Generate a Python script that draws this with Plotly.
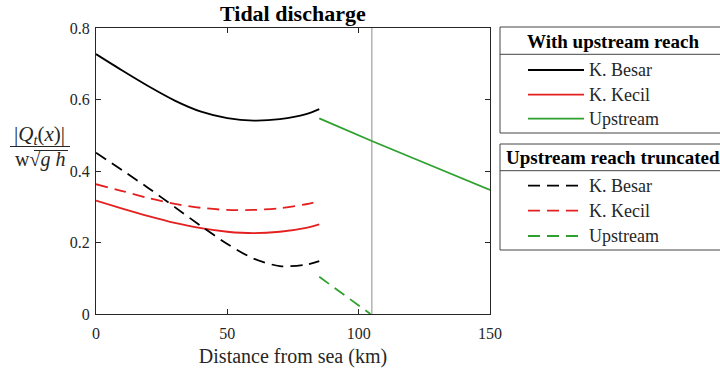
import plotly.graph_objects as go

# ---------------- data ----------------
x_main = [0, 10, 20, 30, 40, 50, 60, 70, 80, 85]
besar_full = [0.727, 0.681, 0.637, 0.597, 0.566, 0.548, 0.541, 0.545, 0.559, 0.573]
kecil_full = [0.317, 0.295, 0.274, 0.255, 0.240, 0.230, 0.226, 0.230, 0.241, 0.251]
besar_trunc = [0.451, 0.402, 0.352, 0.299, 0.246, 0.196, 0.155, 0.134, 0.138, 0.148]
kecil_trunc = [0.363, 0.344, 0.324, 0.308, 0.297, 0.291, 0.291, 0.296, 0.307, 0.315]

x_up_full = [85, 105, 125, 150]
up_full = [0.547, 0.484, 0.423, 0.347]
x_up_trunc = [85, 104.5]
up_trunc = [0.104, 0.0]

x_marker = 105  # vertical reference line (km)

series_names = ["K. Besar", "K. Kecil", "Upstream"]
legend_titles = ["With upstream reach", "Upstream reach truncated"]
x_ticks = [0, 50, 100, 150]
y_ticks = [0, 0.2, 0.4, 0.6, 0.8]
y_ticklabels = ["0", "0.2", "0.4", "0.6", "0.8"]

# ---------------- style ----------------
FONT = "Liberation Serif"
BLACK = "#000000"
RED = "#e3201f"
GREEN = "#2ea02e"
AXC = "#262626"
DASH = "12px,7px"
LW = 1.8
colors = [BLACK, RED, GREEN]

W, H = 720, 376
L, R, T, B = 96, 490, 28, 314


def px(xs):
    return (xs - L) / (R - L)


def py(ys):
    return (B - ys) / (B - T)


fig = go.Figure()

fig.add_trace(go.Scatter(x=[x_marker, x_marker], y=[0, 0.8], mode="lines",
                         line=dict(color="#b3b3b3", width=1.5), showlegend=False))

for xs, ys, c, d in [
    (x_main, besar_full, BLACK, "solid"),
    (x_main, kecil_full, RED, "solid"),
    (x_up_full, up_full, GREEN, "solid"),
    (x_main, besar_trunc, BLACK, DASH),
    (x_main, kecil_trunc, RED, DASH),
    (x_up_trunc, up_trunc, GREEN, DASH),
]:
    fig.add_trace(go.Scatter(x=xs, y=ys, mode="lines",
                             line=dict(color=c, width=LW, dash=d, shape="spline", smoothing=0.8),
                             showlegend=False))

axis_common = dict(showline=True, linecolor=AXC, linewidth=1, mirror="ticks",
                   ticks="inside", ticklen=5, tickcolor=AXC, showgrid=False,
                   zeroline=False, tickfont=dict(family=FONT, size=16, color=AXC))

fig.update_xaxes(range=[0, 150], tickvals=x_ticks, ticklabelstandoff=5,
                 title=dict(text="Distance from sea (km)",
                            font=dict(family=FONT, size=20, color=AXC), standoff=7),
                 **axis_common)
fig.update_yaxes(range=[0, 0.8], tickvals=y_ticks, ticktext=y_ticklabels,
                 ticklabelstandoff=2, **axis_common)

shapes = []
annotations = []

# title
annotations.append(dict(text="<b>Tidal discharge</b>", x=0.5, y=py(14), xref="paper", yref="paper",
                        xanchor="center", yanchor="middle", showarrow=False,
                        font=dict(family=FONT, size=22, color=BLACK)))

# y label as a fraction
annotations.append(dict(text="|<i>Q</i><sub><i>t</i></sub>(<i>x</i>)|", x=px(40), y=py(135),
                        xref="paper", yref="paper", xanchor="center", yanchor="middle",
                        showarrow=False, font=dict(family=FONT, size=21, color=AXC)))
shapes.append(dict(type="line", xref="paper", yref="paper", x0=px(10), x1=px(70),
                   y0=py(146.5), y1=py(146.5), line=dict(color=AXC, width=1)))
annotations.append(dict(text="w√<i>g h</i>", x=px(40), y=py(159),
                        xref="paper", yref="paper", xanchor="center", yanchor="middle",
                        showarrow=False, font=dict(family=FONT, size=20, color=AXC)))
shapes.append(dict(type="line", xref="paper", yref="paper", x0=px(34), x1=px(68),
                   y0=py(150.5), y1=py(150.5), line=dict(color=AXC, width=1)))

# legends
boxes = [(27, 54.3, [70, 94.7, 118.7], "solid"), (144, 170.7, [185.7, 210.7, 236], DASH)]
box_bottoms = [133, 250]
for (top, div, rows, d), bot, title in zip(boxes, box_bottoms, legend_titles):
    shapes.append(dict(type="rect", xref="paper", yref="paper", x0=px(500), x1=px(730),
                       y0=py(top), y1=py(bot), line=dict(color="#444444", width=1),
                       fillcolor="white", layer="below"))
    shapes.append(dict(type="line", xref="paper", yref="paper", x0=px(500), x1=px(730),
                       y0=py(div), y1=py(div), line=dict(color="#444444", width=1)))
    annotations.append(dict(text="<b>%s</b>" % title, x=px(613), y=py((top + div) / 2 + 0.5),
                            xref="paper", yref="paper", xanchor="center", yanchor="middle",
                            showarrow=False, font=dict(family=FONT, size=19, color=BLACK)))
    for name, c, yr in zip(series_names, colors, rows):
        shapes.append(dict(type="line", xref="paper", yref="paper", x0=px(528), x1=px(584),
                           y0=py(yr), y1=py(yr), line=dict(color=c, width=LW, dash=d)))
        annotations.append(dict(text=name, x=px(587), y=py(yr), xref="paper", yref="paper",
                                xanchor="left", yanchor="middle", showarrow=False,
                                font=dict(family=FONT, size=18, color=AXC)))

fig.update_layout(width=W, height=H, margin=dict(l=L, r=W - R, t=T, b=H - B),
                  paper_bgcolor="white", plot_bgcolor="white",
                  shapes=shapes, annotations=annotations, showlegend=False)

fig.write_html("out.html", config={"displayModeBar": False},
               post_script="document.body.style.margin='0';document.body.style.overflow='hidden';")
